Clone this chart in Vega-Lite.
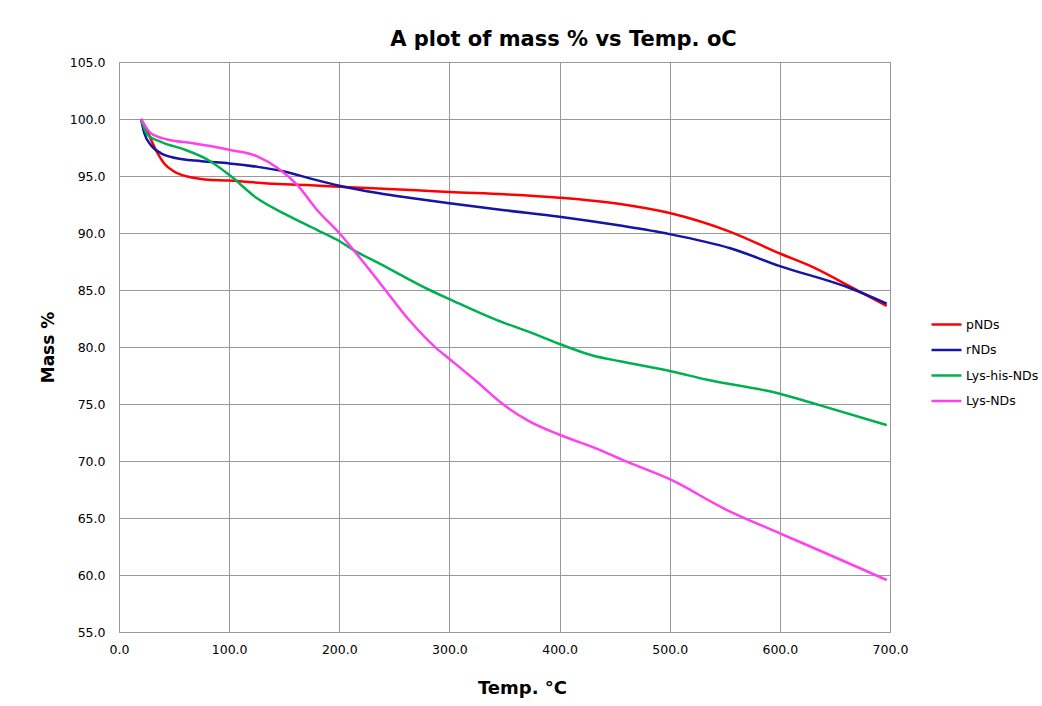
{
  "$schema": "https://vega.github.io/schema/vega-lite/v6.json",
  "autosize": "none",
  "width": 771,
  "height": 570,
  "padding": {"left": 119, "top": 62, "right": 152, "bottom": 74},
  "background": "white",
  "title": {
    "text": "A plot of mass % vs Temp. oC",
    "anchor": "middle",
    "frame": "group",
    "dx": 59,
    "offset": 6,
    "font": "DejaVu Sans",
    "fontSize": 21,
    "fontWeight": "bold",
    "color": "#000000"
  },
  "datasets": {
    "tga": [
      {"series": "pNDs", "T": 20, "mass": 100},
      {"series": "pNDs", "T": 25, "mass": 99.1},
      {"series": "pNDs", "T": 30, "mass": 98.0},
      {"series": "pNDs", "T": 35, "mass": 97.0},
      {"series": "pNDs", "T": 41, "mass": 96.1},
      {"series": "pNDs", "T": 50, "mass": 95.4},
      {"series": "pNDs", "T": 62, "mass": 94.95},
      {"series": "pNDs", "T": 78, "mass": 94.7},
      {"series": "pNDs", "T": 100, "mass": 94.6},
      {"series": "pNDs", "T": 135, "mass": 94.35},
      {"series": "pNDs", "T": 170, "mass": 94.2},
      {"series": "pNDs", "T": 200, "mass": 94.06},
      {"series": "pNDs", "T": 235, "mass": 93.9},
      {"series": "pNDs", "T": 270, "mass": 93.75},
      {"series": "pNDs", "T": 300, "mass": 93.6},
      {"series": "pNDs", "T": 350, "mass": 93.4},
      {"series": "pNDs", "T": 400, "mass": 93.1},
      {"series": "pNDs", "T": 455, "mass": 92.55},
      {"series": "pNDs", "T": 500, "mass": 91.75},
      {"series": "pNDs", "T": 555, "mass": 90.1},
      {"series": "pNDs", "T": 600, "mass": 88.2},
      {"series": "pNDs", "T": 630, "mass": 87.0},
      {"series": "pNDs", "T": 664, "mass": 85.3},
      {"series": "pNDs", "T": 697, "mass": 83.6},

      {"series": "rNDs", "T": 20, "mass": 100},
      {"series": "rNDs", "T": 23, "mass": 98.75},
      {"series": "rNDs", "T": 29, "mass": 97.7},
      {"series": "rNDs", "T": 38, "mass": 97.0},
      {"series": "rNDs", "T": 50, "mass": 96.6},
      {"series": "rNDs", "T": 75, "mass": 96.3},
      {"series": "rNDs", "T": 100, "mass": 96.1},
      {"series": "rNDs", "T": 126, "mass": 95.8},
      {"series": "rNDs", "T": 150, "mass": 95.4},
      {"series": "rNDs", "T": 175, "mass": 94.75},
      {"series": "rNDs", "T": 200, "mass": 94.15},
      {"series": "rNDs", "T": 235, "mass": 93.5},
      {"series": "rNDs", "T": 270, "mass": 93.0},
      {"series": "rNDs", "T": 300, "mass": 92.6},
      {"series": "rNDs", "T": 350, "mass": 92.0},
      {"series": "rNDs", "T": 400, "mass": 91.43},
      {"series": "rNDs", "T": 455, "mass": 90.65},
      {"series": "rNDs", "T": 500, "mass": 89.9},
      {"series": "rNDs", "T": 555, "mass": 88.66},
      {"series": "rNDs", "T": 600, "mass": 87.1},
      {"series": "rNDs", "T": 664, "mass": 85.15},
      {"series": "rNDs", "T": 697, "mass": 83.8},

      {"series": "Lys-his-NDs", "T": 20, "mass": 100},
      {"series": "Lys-his-NDs", "T": 26, "mass": 98.6},
      {"series": "Lys-his-NDs", "T": 38, "mass": 98.0},
      {"series": "Lys-his-NDs", "T": 60, "mass": 97.3},
      {"series": "Lys-his-NDs", "T": 81, "mass": 96.4},
      {"series": "Lys-his-NDs", "T": 100, "mass": 95.1},
      {"series": "Lys-his-NDs", "T": 126, "mass": 93.0},
      {"series": "Lys-his-NDs", "T": 150, "mass": 91.7},
      {"series": "Lys-his-NDs", "T": 180, "mass": 90.26},
      {"series": "Lys-his-NDs", "T": 200, "mass": 89.3},
      {"series": "Lys-his-NDs", "T": 213, "mass": 88.5},
      {"series": "Lys-his-NDs", "T": 237, "mass": 87.3},
      {"series": "Lys-his-NDs", "T": 282, "mass": 85.0},
      {"series": "Lys-his-NDs", "T": 300, "mass": 84.2},
      {"series": "Lys-his-NDs", "T": 342, "mass": 82.4},
      {"series": "Lys-his-NDs", "T": 373, "mass": 81.3},
      {"series": "Lys-his-NDs", "T": 400, "mass": 80.26},
      {"series": "Lys-his-NDs", "T": 430, "mass": 79.25},
      {"series": "Lys-his-NDs", "T": 455, "mass": 78.75},
      {"series": "Lys-his-NDs", "T": 500, "mass": 77.9},
      {"series": "Lys-his-NDs", "T": 533, "mass": 77.15},
      {"series": "Lys-his-NDs", "T": 600, "mass": 75.9},
      {"series": "Lys-his-NDs", "T": 636, "mass": 74.9},
      {"series": "Lys-his-NDs", "T": 697, "mass": 73.15},

      {"series": "Lys-NDs", "T": 20, "mass": 100},
      {"series": "Lys-NDs", "T": 29, "mass": 98.75},
      {"series": "Lys-NDs", "T": 44, "mass": 98.2},
      {"series": "Lys-NDs", "T": 66, "mass": 97.9},
      {"series": "Lys-NDs", "T": 100, "mass": 97.3},
      {"series": "Lys-NDs", "T": 126, "mass": 96.7},
      {"series": "Lys-NDs", "T": 144, "mass": 95.7},
      {"series": "Lys-NDs", "T": 162, "mass": 94.2},
      {"series": "Lys-NDs", "T": 180, "mass": 92.0},
      {"series": "Lys-NDs", "T": 200, "mass": 90.0},
      {"series": "Lys-NDs", "T": 213, "mass": 88.5},
      {"series": "Lys-NDs", "T": 237, "mass": 85.6},
      {"series": "Lys-NDs", "T": 264, "mass": 82.3},
      {"series": "Lys-NDs", "T": 288, "mass": 79.9},
      {"series": "Lys-NDs", "T": 300, "mass": 78.95},
      {"series": "Lys-NDs", "T": 325, "mass": 76.95},
      {"series": "Lys-NDs", "T": 349, "mass": 74.95},
      {"series": "Lys-NDs", "T": 373, "mass": 73.45},
      {"series": "Lys-NDs", "T": 400, "mass": 72.3},
      {"series": "Lys-NDs", "T": 437, "mass": 70.96},
      {"series": "Lys-NDs", "T": 461, "mass": 69.94},
      {"series": "Lys-NDs", "T": 500, "mass": 68.4},
      {"series": "Lys-NDs", "T": 552, "mass": 65.7},
      {"series": "Lys-NDs", "T": 600, "mass": 63.66},
      {"series": "Lys-NDs", "T": 649, "mass": 61.6},
      {"series": "Lys-NDs", "T": 697, "mass": 59.56}
    ]
  },
  "data": {"name": "tga"},
  "mark": {"type": "line", "interpolate": "monotone", "strokeWidth": 2.5},
  "encoding": {
    "x": {
      "field": "T",
      "type": "quantitative",
      "scale": {"domain": [0, 700], "nice": false, "zero": false},
      "axis": {
        "title": "Temp. °C",
        "values": [0, 100, 200, 300, 400, 500, 600, 700],
        "format": ".1f",
        "labelFlush": false,
        "labelOverlap": false,
        "labelPadding": 11,
        "titlePadding": 24,
        "titleX": 403,
        "titleAnchor": "middle",
        "titleFontSize": 18
      }
    },
    "y": {
      "field": "mass",
      "type": "quantitative",
      "scale": {"domain": [55, 105], "nice": false, "zero": false},
      "axis": {
        "title": "Mass %",
        "values": [55, 60, 65, 70, 75, 80, 85, 90, 95, 100, 105],
        "format": ".1f",
        "labelFlush": false,
        "labelOverlap": false,
        "labelPadding": 14,
        "titlePadding": 12,
        "titleFontSize": 17
      }
    },
    "color": {
      "field": "series",
      "type": "nominal",
      "scale": {
        "domain": ["pNDs", "rNDs", "Lys-his-NDs", "Lys-NDs"],
        "range": ["#ff0000", "#1414a6", "#00b050", "#ff40ee"]
      },
      "legend": {
        "title": null,
        "orient": "none",
        "legendX": 811,
        "legendY": 246,
        "symbolType": "stroke",
        "symbolSize": 900,
        "symbolStrokeWidth": 2.5,
        "rowPadding": 2.5,
        "labelOffset": 3,
        "labelFont": "DejaVu Sans",
        "labelFontSize": 12.5,
        "labelColor": "#000000"
      }
    }
  },
  "config": {
    "view": {"stroke": "#9a9a9a", "strokeWidth": 1},
    "axis": {
      "grid": true,
      "gridColor": "#9a9a9a",
      "gridOpacity": 1,
      "gridWidth": 1,
      "domain": false,
      "ticks": false,
      "labelFont": "DejaVu Sans",
      "labelFontSize": 12.5,
      "labelColor": "#000000",
      "titleFont": "DejaVu Sans",
      "titleFontWeight": "bold",
      "titleColor": "#000000"
    }
  }
}
